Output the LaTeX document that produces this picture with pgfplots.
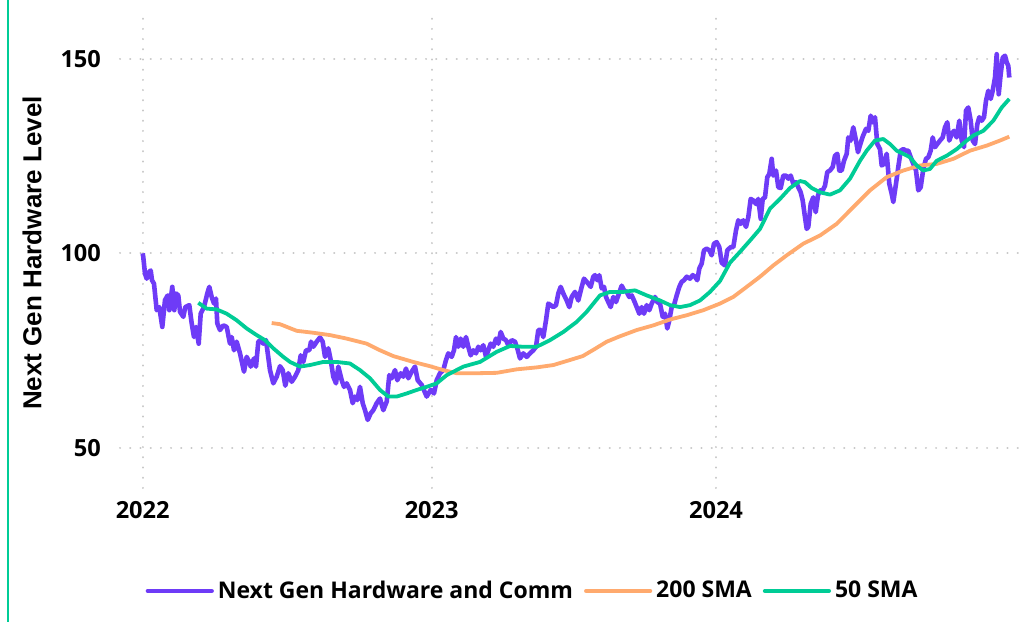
\documentclass[border=0pt]{standalone}
\usepackage{pgfplots}
\pgfplotsset{compat=1.18}
\usepackage{fontspec}
\setmainfont{Open Sans}[BoldFont={Open Sans Bold}]
\newfontfamily\arialfont{Liberation Sans}[BoldFont={Liberation Sans Bold}]
\definecolor{cpurple}{HTML}{6E3BF7}
\definecolor{corange}{HTML}{FFAA6E}
\definecolor{cgreen}{HTML}{00CC96}
\definecolor{cgrid}{HTML}{C8C8C8}
\begin{document}
\begin{tikzpicture}
\useasboundingbox (0,0) rectangle (517.5pt,311pt);
\fill[white] (0,0) rectangle (517.5pt,311pt);
\draw[cgreen, line width=0.8pt] (3.9pt,0pt) -- (3.9pt,311pt);
\begin{axis}[
  at={(60pt,67pt)}, anchor=south west,
  scale only axis, width=452.5pt, height=235pt,
  xmin=-22.7, xmax=882.3, ymin=39.7, ymax=160.5,
  axis line style={draw=none}, tick style={draw=none},
  xtick={0,289,573.3}, xticklabels={2022,2023,2024},
  ytick={50,100,150},
  grid=major,
  grid style={cgrid, line width=1pt, dash pattern=on 0.1pt off 5pt, line cap=round},
  ticklabel style={font=\bfseries\fontsize{11.8}{14}\selectfont},
  /pgf/number format/assume math mode=true,
  yticklabel style={xshift=-6pt},
  xticklabel style={yshift=-3pt},
  ylabel={Next Gen Hardware Level},
  ylabel style={font=\arialfont\bfseries\fontsize{13}{15}\selectfont, at={(axis description cs:0,0.5)}, anchor=center, yshift=44pt},
  legend columns=3,
  legend style={at={(0.457,-0.219)}, anchor=center, draw=none, fill=none,
    font=\bfseries\fontsize{11.5}{14}\selectfont,
    /tikz/every even column/.append style={column sep=3.5pt},
    nodes={inner sep=2pt}},
  legend image code/.code={\draw[#1, line width=2.1pt, line cap=round] (0pt,0pt) -- (32pt,0pt);},
]
\addplot[cpurple, line width=2.3pt, line join=round] coordinates {
(0,100)(0.6,99)(2.3,94.8)(4,93.5)(6.3,95.2)(8,95.6)(9.3,93.1)(11.3,92.2)(14,85.4)(16.6,86.2)
(19.6,81.1)(22.3,88)(25,89.2)(26.6,85.4)(29.6,91.4)(31.6,85.4)(33.3,89.7)(35.6,89.2)(37.3,85)(40.6,83.7)
(42.6,86.2)(46.6,86.7)(49,82)(51.3,78.5)(53.3,81.1)(56,76.8)(58,84.5)(61.3,86.2)(64.6,89.7)(66.6,91.4)
(69,88.8)(71.3,87.1)(73.3,88.4)(74.6,82)(77.3,80.3)(80.6,81.5)(84,81.1)(87.3,76.8)(89,78.5)(91.3,75.1)
(94,77.3)(97.3,74.3)(101.3,69.6)(104,73.4)(106.6,72.1)(108,70.9)(111.3,73)(113.3,70.9)(115.6,77.3)(118,77.7)
(120.6,76.8)(123.3,77.7)(127.3,70)(130.6,66.6)(134,68.3)(137.3,71)(140,70)(142.6,66)(145.6,69.2)(149,67)
(152.3,68.3)(155.6,70)(158,73.8)(160.6,72.1)(163.3,75.1)(166.6,75.1)(168.3,77.3)(170.6,76)(174,77.3)(177.3,78.4)
(180,77.3)(182.3,73.4)(185.6,75.6)(188,72.6)(190.6,68.3)(193.3,66.6)(195.6,70.9)(199,67.4)(201.3,65.7)(204,66.6)
(207.3,64.9)(210,61.5)(212.3,63.2)(214.6,62.3)(217.3,65.7)(220,61.5)(222.3,59.7)(225,57.2)(228,58.9)(230.6,59.7)
(234,61.5)(237.3,62.7)(240.6,59.7)(244,61.9)(246.6,68.7)(249,67.9)(252.3,70)(254.6,67.4)(258,69.2)(260.6,68.3)
(263.3,70.4)(265.6,67.9)(269,69.6)(272.3,70.9)(275,67.4)(279,66.2)(284,63.2)(288,64.9)(291.3,64)(294,67.4)
(297.3,69.2)(300.6,70)(303.3,72.6)(305.6,74.3)(309,73.4)(311.3,75.1)(313.3,78.5)(315.6,76)(318,78.1)(320.6,76)
(323.3,78.5)(325.6,76)(328,73.8)(330.6,75.1)(333.3,74.3)(335.6,76)(338,75.1)(340.6,76.4)(343.3,73.4)(345.6,75.1)
(348,76.8)(350.6,76)(353.3,78.1)(355.6,76.8)(358,79.8)(360.6,78.1)(363.3,77.7)(365.6,76.4)(369,77.7)(372.3,77.3)
(374.6,75.6)(377.3,73)(380.6,74.3)(384,73.4)(387.3,74.3)(390.6,75.1)(393.3,76)(395.6,80.3)(398.3,80.3)(400.6,78.5)
(403.3,82.8)(405.6,87.1)(408,86.7)(410.6,86.2)(413.3,86.7)(415.6,89.7)(418,91.4)(420.6,89.7)(424,87.9)(426.6,86.2)
(429,88.8)(432.3,90.1)(435.6,87.9)(439,91.4)(441.3,93.5)(445.6,92.2)(448,91.4)(450.6,94)(452.3,94.4)(454.6,93.1)
(456.6,94.4)(459,91)(461.3,91.4)(463.3,88.8)(465.6,87.5)(468,86.2)(470.6,88.8)(473.3,87.5)(475.6,89.2)(479,91.7)
(481.3,90.5)(484,90.1)(486.6,88.8)(489,89.2)(491.3,87.9)(494,86.2)(496.6,84.5)(499,86.2)(501.3,84.5)(504,86.7)
(506.6,85.4)(509,87.1)(512.3,88.8)(514.6,87.5)(517.3,87.1)(520,83.7)(522.3,84.5)(524.6,80.7)(526.6,82.8)(529,86.2)
(531.3,86.7)(534,89.2)(536.6,91.4)(539,92.7)(541.3,93.1)(544,94)(547.3,93.5)(550,94.4)(552.3,94)(554.6,93.1)
(556.6,96.1)(559,97.4)(561.3,100.8)(564,101.2)(566.6,100.8)(569,99.5)(571.3,102.5)(574,102.9)(576.6,101.6)(579,97.6)
(582.3,96.9)(584.6,100.8)(588,101.6)(590.6,101.6)(593.3,105.9)(595.6,108.5)(598,107.6)(600.6,108.5)(603.3,106.8)(605.6,109.3)
(608,114)(610.6,113.6)(613.3,112.7)(615.6,114)(618,108.9)(620,114)(622.3,114.4)(624.6,119.6)(626.6,120.4)(629,124.3)
(630.6,120)(633.3,121.3)(635.6,117)(638,116.8)(640.6,120)(643.3,120)(645.6,119.2)(648,120)(650.6,117.9)(653.3,118.3)
(655.6,117)(658,115.7)(660,113.6)(662.3,109.3)(664,106.3)(665.6,106.8)(668,112.7)(670.6,114.4)(673,110.6)(675.3,114.9)
(677.3,116.2)(680,116.2)(682.3,117.4)(684.6,120.9)(687.3,121.3)(690,122.2)(692.3,125.1)(694.6,125.6)(696.6,121.3)(699,121.3)
(701.3,123.8)(704,125.6)(705.6,129.8)(708,129)(710.6,132.4)(713.3,129)(715.3,126)(717.3,127.8)(720,130)(723.3,132)
(725.6,131.5)(728,135.4)(730,133.7)(732.3,135)(734.6,128.1)(737.3,126.8)(739,122.6)(741.3,123)(744,125.6)(746.6,117.9)
(749,115.3)(750.6,113.2)(753.3,117.9)(755.6,122.2)(758,126.4)(760.6,126.8)(763.3,126.4)(765.6,126.4)(768,124.7)(770.6,123)
(773.3,121.3)(775.6,116.2)(778,117)(780.6,121.7)(783.3,124.3)(785.6,124.7)(788,126.4)(790,129.8)(792.3,127.3)(794.6,128.1)
(797.3,129)(800,129.8)(802.3,132.4)(804.6,133.7)(806.6,129)(809,130.7)(811.3,131.5)(814,129.8)(816.6,134.1)(819,129)
(821.3,127.3)(823.3,136.7)(825.6,137.5)(828,134.1)(830,129)(832.3,128.1)(834.6,133.2)(836.6,135)(839,134.1)(841.3,135)
(843.3,139.2)(845.6,141.8)(848,139.7)(850,141.8)(852.3,145.2)(854,151.2)(856,140.9)(858,146.1)(860,150.3)(862.3,150.8)
(864,149.1)(865.6,148.2)(866.6,145.2)
};
\addlegendentry{Next Gen Hardware and Comm}
\addplot[corange, line width=1.9pt, line join=round] coordinates {
(129,82.1)(137.3,81.8)(154,80.1)(170.6,79.6)(187.3,79)(204,78.1)(224,76.8)(237.3,75.1)(250.6,73.6)(270.6,72.1)
(287.3,71)(300.6,70)(314,69.2)(334,69.2)(354,69.3)(374,70.2)(394,70.7)(410.6,71.3)(427.3,72.6)(440,73.6)
(450.6,75.2)(464,77.3)(477.3,78.7)(494,80.3)(510.6,81.5)(527.3,83)(544,84.1)(560.6,85.4)(577.3,87.1)(590.6,88.8)
(604,91.4)(617.3,94)(630.6,96.9)(644,99.5)(660.6,102.5)(677.3,104.6)(694,107.6)(710.6,111.9)(727.3,116.2)(744,119.6)
(760.6,121.3)(777.3,122.6)(794,123)(810.6,124.3)(827.3,126.4)(844,127.7)(857.3,129)(866.6,130)
};
\addlegendentry{200 SMA}
\addplot[cgreen, line width=1.9pt, line join=round] coordinates {
(55.6,87.3)(64,85.8)(74,85.6)(84,84.5)(94,82.8)(104,80.7)(114,79)(122.3,77.7)(130.6,75.6)(140.6,73.4)
(147.3,72.1)(157.3,70.9)(167.3,71.3)(180.6,72.1)(194,72.1)(207.3,71.7)(217.3,70)(227.3,67.9)(237.3,64.9)(245.6,63.2)
(254,63.2)(264,64)(274,64.9)(284,65.7)(294,66.6)(304,68.7)(320.6,70.9)(337.3,72.1)(354,74.7)(367.3,76.2)
(380.6,76)(394,76)(407.3,77.7)(420.6,79.8)(434,82.4)(444,85)(457.3,89.2)(467.3,90.1)(480.6,90.1)(492.3,90.5)
(504,89.2)(517.3,87.9)(527.3,86.7)(537.3,86.2)(547.3,86.7)(557.3,87.9)(567.3,90.1)(577.3,92.9)(587.3,97.6)(597.3,100.4)
(607.3,103.3)(617.3,106.3)(627.3,111.5)(637.3,114)(647.3,116.8)(657.3,118.6)(662.3,118.3)(669,116.8)(677.3,115.7)(687.3,115.1)
(697.3,116.2)(707.3,119.2)(717.3,123.8)(724,126.4)(732.3,129)(740.6,129.4)(747.3,128.1)(754,126.4)(760.6,125.6)(767.3,124.7)
(774,122.6)(780.6,121.3)(787.3,121.7)(794,123.8)(804,125.1)(814,126.8)(824,129)(830.6,130.3)(840.6,131.5)(850.6,134.1)
(859,137.5)(866.6,139.7)
};
\addlegendentry{50 SMA}
\end{axis}
\end{tikzpicture}
\end{document}
